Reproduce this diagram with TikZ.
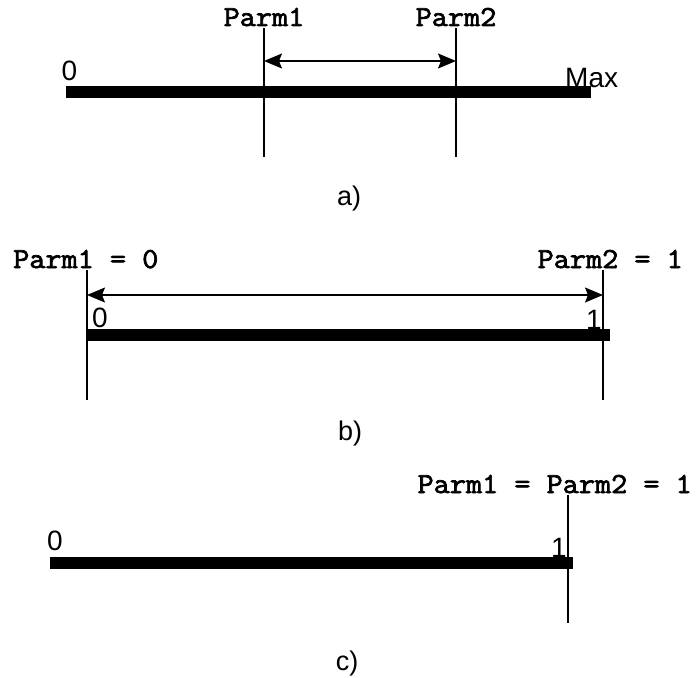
\documentclass[tikz,border=0pt]{standalone}
\usepackage{fontspec}
\setmainfont{Liberation Sans}
\newfontfamily\parmfont[FakeStretch=1.08, FakeBold=2.5]{Latin Modern Mono}
\usetikzlibrary{arrows.meta}
\tikzset{
  parmlabel/.style={inner sep=0pt, font=\parmfont\fontsize{29}{31}\selectfont},
  numlabel/.style={inner sep=0pt, font=\fontsize{28}{30}\selectfont},
  captionlabel/.style={inner sep=0pt, font=\fontsize{27}{29}\selectfont},
  thickbar/.style={line width=12pt, line cap=butt},
  tickline/.style={line width=1.3pt},
  spanarrow/.style={line width=1.3pt, {Stealth[length=18pt,width=15pt,inset=3pt]}-{Stealth[length=18pt,width=15pt,inset=3pt]}}
}
\begin{document}
\begin{tikzpicture}[x=1pt,y=-1pt]
\useasboundingbox (0,0) rectangle (698,677);
% ---------- a)
\coordinate (a0) at (66,92);
\coordinate (aM) at (591,92);
\draw[thickbar] (a0) -- (aM);
\coordinate (a1t) at (264,28); \coordinate (a1b) at (264,157);
\coordinate (a2t) at (456,28); \coordinate (a2b) at (456,157);
\draw[tickline] (a1t) -- (a1b);
\draw[tickline] (a2t) -- (a2b);
\coordinate (a1m) at (264,61); \coordinate (a2m) at (456,61);
\draw[spanarrow] (a1m) -- (a2m);
\node[parmlabel, anchor=base] (ap1) at (264,26) {Parm1};
\node[parmlabel, anchor=base] (ap2) at (456,26) {Parm2};
\node[numlabel, anchor=base] (azero) at (69.5,80) {0};
\node[numlabel, anchor=base west] (amax) at (565,87) {Max};
\node[captionlabel, anchor=base] (acap) at (349,205) {a)};
% ---------- b)
\coordinate (b0) at (87,335);
\coordinate (b1) at (610,335);
\draw[thickbar] (b0) -- (b1);
\coordinate (b1t) at (87,270); \coordinate (b1b) at (87,400);
\coordinate (b2t) at (603,270); \coordinate (b2b) at (603,400);
\draw[tickline] (b1t) -- (b1b);
\draw[tickline] (b2t) -- (b2b);
\coordinate (b1m) at (87,295); \coordinate (b2m) at (603,295);
\draw[spanarrow] (b1m) -- (b2m);
\node[parmlabel, anchor=base west] (bp1) at (13,268) {Parm1 = 0};
\node[parmlabel, anchor=base east] (bp2) at (683,268) {Parm2 = 1};
\node[numlabel, anchor=base] (bzero) at (100,327) {0};
\node[numlabel, anchor=base] (bone) at (594,329) {1};
\node[captionlabel, anchor=base] (bcap) at (350,440) {b)};
% ---------- c)
\coordinate (c0) at (50,563);
\coordinate (c1) at (573,563);
\draw[thickbar] (c0) -- (c1);
\coordinate (c1t) at (568,495); \coordinate (c1b) at (568,623);
\draw[tickline] (c1t) -- (c1b);
\node[parmlabel, anchor=base east] (cp) at (692,493) {Parm1 = Parm2 = 1};
\node[numlabel, anchor=base] (czero) at (55,550) {0};
\node[numlabel, anchor=base] (cone) at (559,557) {1};
\node[captionlabel, anchor=base] (ccap) at (347,670) {c)};
\end{tikzpicture}
\end{document}
